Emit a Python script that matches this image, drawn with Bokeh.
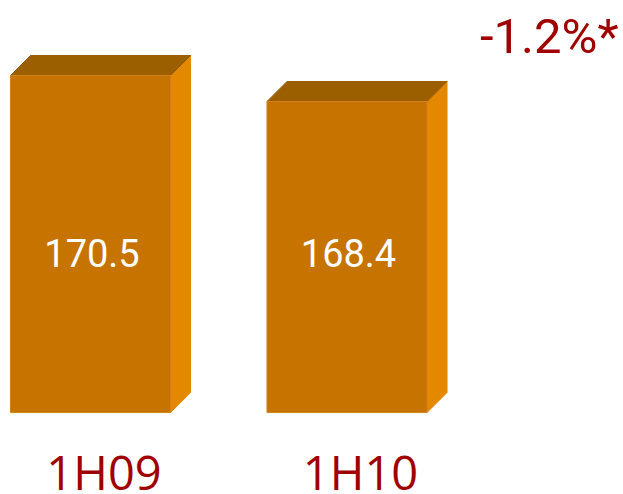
from bokeh.plotting import figure
from bokeh.models import Range1d, Label
from bokeh.core.properties import value
from bokeh.embed import file_html
from bokeh.resources import INLINE

# ---- data ----
categories = ["1H09", "1H10"]
values = [170.5, 168.4]
value_labels = ["170.5", "168.4"]
change_label = "-1.2%*"

# ---- layout ----
W, H = 623, 494
y_min, y_max = 136.66, 176.56     # value axis (does not start at zero)
base = 143.28                     # bar baseline on the value axis
x_min, x_max = -0.3509, 2.078
bw = 0.624                        # bar width in category units
depth_x, depth_y = 20, 20         # 3-D depth in pixels
BASELINE_FIX = 16                 # svg alphabetic-baseline correction (px)

ux = (x_max - x_min) / W          # data units per pixel
uy = (y_max - y_min) / H
dx, dy = depth_x * ux, depth_y * uy


def y_at(py):
    """data y for a pixel distance py from the top of the plot"""
    return y_max - py * uy


FRONT, TOP, SIDE = "#C67300", "#9B5F00", "#E48800"
RED = "#A00000"

p = figure(width=W, height=H, x_range=Range1d(x_min, x_max),
           y_range=Range1d(y_min, y_max), output_backend="svg",
           toolbar_location=None, min_border=0)
p.axis.visible = False
p.grid.visible = False
p.outline_line_color = None
p.background_fill_color = "white"

xs = list(range(len(categories)))
lefts = [x - bw / 2 for x in xs]
rights = [x + bw / 2 for x in xs]

# side faces
p.patches(xs=[[r, r + dx, r + dx, r] for r in rights],
          ys=[[base, base + dy, v + dy, v] for v in values],
          fill_color=SIDE, line_color=SIDE)
# top faces
p.patches(xs=[[l, l + dx, r + dx, r] for l, r in zip(lefts, rights)],
          ys=[[v, v + dy, v + dy, v] for v in values],
          fill_color=TOP, line_color=TOP)
# front faces
p.quad(left=lefts, right=rights, bottom=base, top=values,
       fill_color=FRONT, line_color="#D4821A", line_width=1)

# value labels inside bars
p.text(x=[x + 1.5 * ux for x in xs], y=[y_at(268 - BASELINE_FIX)] * len(xs),
       text=value_labels, text_align="center", text_baseline="alphabetic",
       text_font=value("Roboto"), text_font_size="38px", text_color="white")

# category labels
p.text(x=[x + 13.5 * ux for x in xs], y=[y_at(487 - BASELINE_FIX)] * len(xs),
       text=categories, text_align="center", text_baseline="alphabetic",
       text_font=value("Open Sans"), text_font_size="47px", text_color=RED)

p.add_layout(Label(x=618, y=H - (52 - BASELINE_FIX),
                   x_units="screen", y_units="screen",
                   text=change_label, text_align="right",
                   text_baseline="alphabetic", text_font="Roboto",
                   text_font_size="49px", text_color=RED))

open("out.html", "w").write(file_html(p, INLINE))
